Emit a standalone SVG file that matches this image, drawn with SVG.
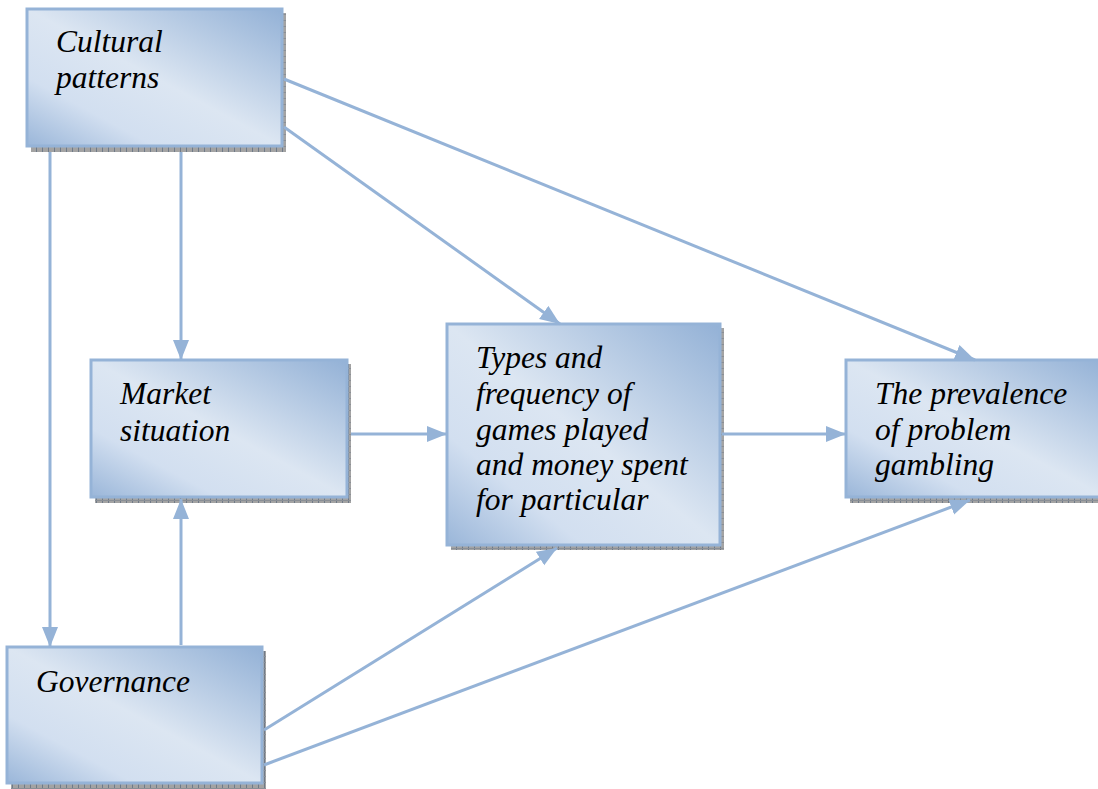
<svg xmlns="http://www.w3.org/2000/svg" width="1098" height="789" viewBox="0 0 1098 789">
<defs>
<linearGradient id="fillg" x1="1" y1="0" x2="0" y2="1">
<stop offset="0" stop-color="#93b1d6"/>
<stop offset="0.5" stop-color="#dce6f2"/>
<stop offset="0.75" stop-color="#d2dff0"/>
<stop offset="1" stop-color="#9ab6d9"/>
</linearGradient>
<pattern id="hatch" width="6" height="6" patternUnits="userSpaceOnUse">
<rect width="6" height="6" fill="#a3a3a3"/>
<rect width="1" height="6" fill="#6f7a88"/>
<rect y="2" width="6" height="1" fill="#8a8f96"/>
</pattern>
<marker id="arr" markerUnits="userSpaceOnUse" markerWidth="22" markerHeight="18" refX="20" refY="8" orient="auto">
<path d="M0,0 L20,8 L0,16 z" fill="#95b3d7"/>
</marker>
</defs>
<style>
.shadow{fill:url(#hatch);}
.box{fill:url(#fillg);stroke:#95b3d7;stroke-width:3;}
.lbl{font-family:"Liberation Serif","Times New Roman",serif;font-style:italic;font-size:31.5px;fill:#000;}
.edge{stroke:#95b3d7;stroke-width:3;fill:none;marker-end:url(#arr);}
</style>
<g id="cultural">
<rect class="shadow" x="31" y="13" width="255" height="139"/>
<rect class="box" x="27" y="9" width="255" height="137"/>
<text class="lbl" x="56" y="52">Cultural</text>
<text class="lbl" x="56" y="88">patterns</text>
</g>
<g id="market">
<rect class="shadow" x="95" y="364" width="256" height="139"/>
<rect class="box" x="91" y="360" width="256" height="137"/>
<text class="lbl" x="120" y="404">Market</text>
<text class="lbl" x="120" y="441">situation</text>
</g>
<g id="types">
<rect class="shadow" x="451" y="328" width="273" height="222"/>
<rect class="box" x="447" y="324" width="273" height="221"/>
<text class="lbl" x="476" y="368">Types and</text>
<text class="lbl" x="476" y="404">frequency of</text>
<text class="lbl" x="476" y="440">games played</text>
<text class="lbl" x="476" y="475">and money spent</text>
<text class="lbl" x="476" y="510">for particular</text>
</g>
<g id="prevalence">
<rect class="shadow" x="850" y="364" width="260" height="139"/>
<rect class="box" x="846" y="360" width="260" height="137"/>
<text class="lbl" x="875" y="404">The prevalence</text>
<text class="lbl" x="875" y="440">of problem</text>
<text class="lbl" x="875" y="475">gambling</text>
</g>
<g id="governance">
<rect class="shadow" x="11" y="651" width="255" height="138"/>
<rect class="box" x="7" y="647" width="255" height="136"/>
<text class="lbl" x="36" y="692">Governance</text>
</g>
<g id="connectors">
<line class="edge" x1="284" y1="79" x2="975" y2="360"/>
<line class="edge" x1="284" y1="127" x2="560" y2="324"/>
<line class="edge" x1="181" y1="152" x2="181" y2="360"/>
<line class="edge" x1="50" y1="152" x2="50" y2="647"/>
<line class="edge" x1="351" y1="434" x2="447" y2="434"/>
<line class="edge" x1="181" y1="645" x2="181" y2="499"/>
<line class="edge" x1="722" y1="434" x2="846" y2="434"/>
<line class="edge" x1="264" y1="730" x2="557" y2="548"/>
<line class="edge" x1="264" y1="765" x2="970" y2="500"/>
</g>
</svg>
